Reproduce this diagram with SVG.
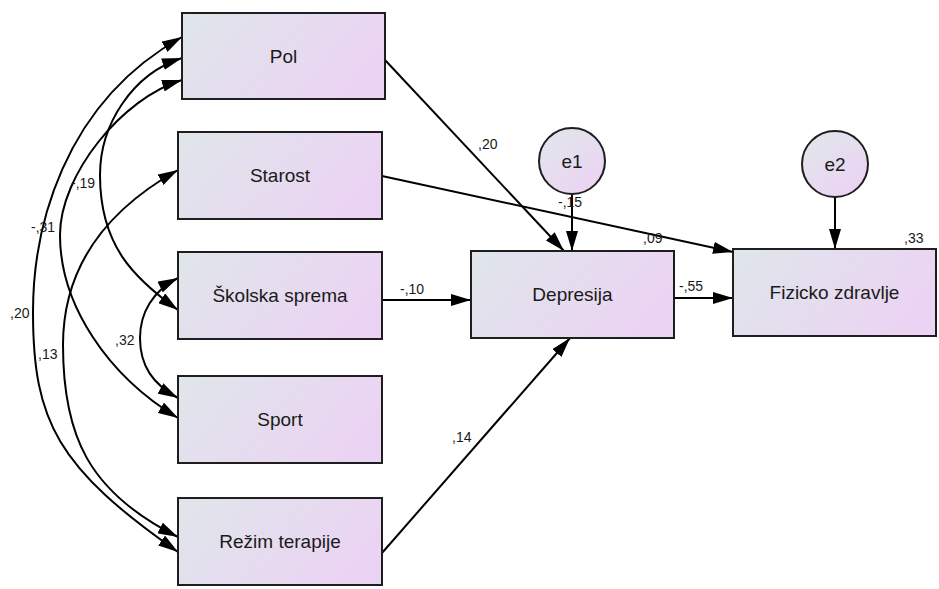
<svg xmlns="http://www.w3.org/2000/svg" width="939" height="589" viewBox="0 0 939 589">
<defs>
<linearGradient id="gBox" x1="0" y1="0" x2="1" y2="0.35">
<stop offset="0" stop-color="#dfe6ea"/>
<stop offset="1" stop-color="#ebd4f3"/>
</linearGradient>
<linearGradient id="gCirc" x1="0.15" y1="0.1" x2="0.85" y2="0.9">
<stop offset="0" stop-color="#e1e5ec"/>
<stop offset="1" stop-color="#ecd3f3"/>
</linearGradient>
<marker id="arr" viewBox="0 0 20 12" refX="20" refY="6" markerWidth="20" markerHeight="12" markerUnits="userSpaceOnUse" orient="auto-start-reverse">
<path d="M0,0 L20,6 L0,12 z" fill="#000"/>
</marker>
</defs>
<style>
.box{fill:url(#gBox);stroke:#1e1e1e;stroke-width:2}
.circ{fill:url(#gCirc);stroke:#1e1e1e;stroke-width:2}
.lbl{font-family:"Liberation Sans",Arial,sans-serif;font-size:19px;fill:#1a1a1a;text-anchor:middle}
.num{font-family:"Liberation Sans",Arial,sans-serif;font-size:14px;fill:#1a1a1a}
.ln{fill:none;stroke:#000;stroke-width:2}
.one{marker-end:url(#arr)}
.two{marker-start:url(#arr);marker-end:url(#arr)}
</style>
<rect width="939" height="589" fill="#fff"/>

<g id="connectors">
<path class="ln two" d="M182,37 C62,104 33,230 33,312 C33,422 58,468 178,552"/>
<path class="ln two" d="M182,80 C122,98 60,175 60,235 C60,305 108,376 178,418"/>
<path class="ln two" d="M182,58 C132,74 100,125 100,175 C100,245 133,277.6 178,310"/>
<path class="ln two" d="M178,170 C98,214.8 63,275 63,345 C63,435 88,492 178,537"/>
<path class="ln two" d="M178,278 C153,290.5 140,313 140,338 C140,366 153,384.3 178,398"/>
<line class="ln one" x1="385" y1="60" x2="564" y2="251"/>
<line class="ln one" x1="382" y1="176" x2="733" y2="252"/>
<line class="ln one" x1="382" y1="300" x2="471" y2="300"/>
<line class="ln one" x1="674" y1="298" x2="733" y2="298"/>
<line class="ln one" x1="382" y1="553" x2="570" y2="338"/>
<line class="ln one" x1="572" y1="194" x2="572" y2="251"/>
<line class="ln one" x1="835" y1="197" x2="835" y2="249"/>
<text class="num" x="478" y="149">,20</text>
<text class="num" x="558" y="207">-,15</text>
<text class="num" x="400" y="294">-,10</text>
<text class="num" x="679" y="291">-,55</text>
<text class="num" x="452" y="442">,14</text>
<text class="num" x="71" y="188">-,19</text>
<text class="num" x="31" y="232">-,31</text>
<text class="num" x="10" y="318">,20</text>
<text class="num" x="38" y="359">,13</text>
<text class="num" x="115" y="345">,32</text>
</g>

<g id="pol"><rect class="box" x="182" y="13" width="203" height="86"/><text class="lbl" x="283.5" y="62.5">Pol</text></g>
<g id="starost"><rect class="box" x="178" y="132" width="204" height="87"/><text class="lbl" x="280" y="182">Starost</text></g>
<g id="skolska"><rect class="box" x="178" y="252" width="204" height="87"/><text class="lbl" x="280" y="302">Školska sprema</text></g>
<g id="sport"><rect class="box" x="178" y="376" width="204" height="87"/><text class="lbl" x="280" y="426">Sport</text></g>
<g id="rezim"><rect class="box" x="178" y="498" width="204" height="87"/><text class="lbl" x="280" y="548">Režim terapije</text></g>
<g id="depresija"><rect class="box" x="471" y="251" width="203" height="87"/><text class="lbl" x="572.5" y="301">Depresija</text><text class="num" x="643" y="243">,09</text></g>
<g id="fizicko"><rect class="box" x="733" y="249" width="203" height="87"/><text class="lbl" x="834.5" y="299">Fizicko zdravlje</text><text class="num" x="904" y="243">,33</text></g>
<g id="e1"><circle class="circ" cx="572" cy="161" r="33"/><text class="lbl" x="572" y="167.5">e1</text></g>
<g id="e2"><circle class="circ" cx="835" cy="164" r="33"/><text class="lbl" x="835" y="170.5">e2</text></g>
</svg>
